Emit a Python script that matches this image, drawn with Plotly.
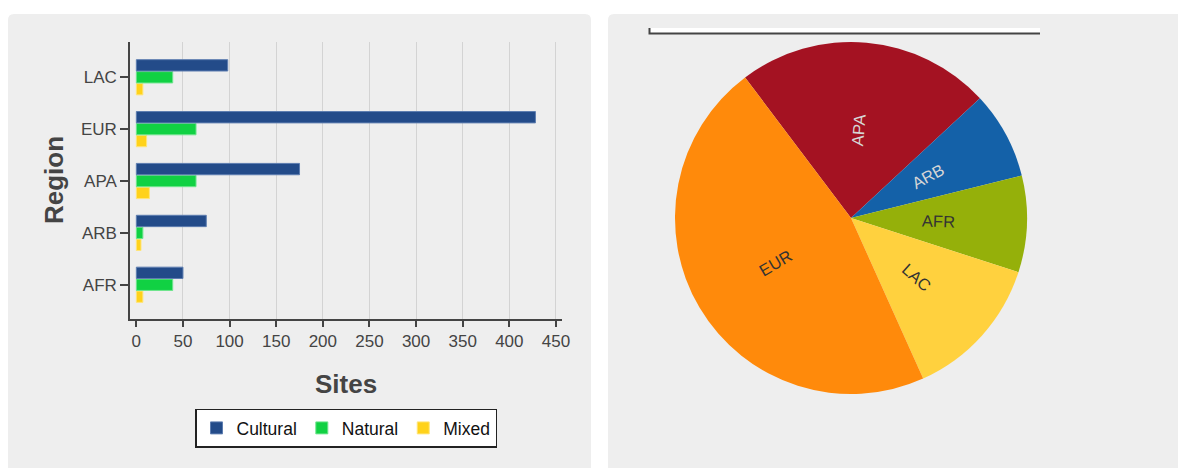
import math
import plotly.graph_objects as go

# ---- data ----
regions = ["AFR", "ARB", "APA", "EUR", "LAC"]
cultural = [50, 75, 175, 428, 98]
natural = [39, 7, 64, 64, 39]
mixed = [7, 5, 14, 11, 7]

series_names = ["Cultural", "Natural", "Mixed"]
series_colors = ["#234b89", "#11d143", "#ffd21a"]
series_lines = ["#5d7db0", "#6fe58d", "#ffe57a"]

pie_order = ["APA", "ARB", "AFR", "LAC", "EUR"]
pie_colors = ["#a41222", "#1461a8", "#95b00a", "#ffd13e", "#ff8a0b"]
pie_text_colors = ["#d6d6d6", "#d6d6d6", "#333333", "#333333", "#333333"]

x_ticks = [0, 50, 100, 150, 200, 250, 300, 350, 400, 450]

# layout designed on a 1178x468 grid
GW, GH = 1178, 468
W, H = 1186, 468
FONT = "Liberation Sans, Arial, sans-serif"


def px(x):
    return x / GW


def py(y):
    return 1 - y / GH


fig = go.Figure()

values = {"Cultural": cultural, "Natural": natural, "Mixed": mixed}
# added bottom-to-top so that Cultural sits on top of each group
for name, col, lc in reversed(list(zip(series_names, series_colors, series_lines))):
    fig.add_trace(go.Bar(
        y=regions, x=values[name], name=name, orientation="h",
        marker=dict(color=col, line=dict(color=lc, width=1)),
        xaxis="x", yaxis="y",
    ))

# ---- pie ----
totals = {r: c + n + m for r, c, n, m in zip(regions, cultural, natural, mixed)}
pie_values = [totals[r] for r in pie_order]
ROT = -37
PCX, PCY, PR = 851, 218, 176
fig.add_trace(go.Pie(
    labels=pie_order, values=pie_values,
    sort=False, direction="clockwise", rotation=ROT,
    marker=dict(colors=pie_colors, line=dict(width=0)),
    textinfo="none", showlegend=False,
    domain=dict(x=[px(PCX - PR), px(PCX + PR)], y=[py(PCY + PR), py(PCY - PR)]),
))

annotations = []
total = sum(pie_values)
cum = 0
for lab, v, tc in zip(pie_order, pie_values, pie_text_colors):
    mid = ROT + (cum + v / 2) / total * 360
    cum += v
    th = math.radians(mid)
    lx = PCX + 0.5 * PR * math.sin(th)
    ly = PCY - 0.5 * PR * math.cos(th)
    m = mid % 360
    ang = m - 90 if m < 180 else m - 270
    annotations.append(dict(
        text=lab, x=px(lx), y=py(ly), xref="paper", yref="paper", showarrow=False,
        textangle=ang, xanchor="center", yanchor="middle",
        font=dict(family=FONT, size=16.5, color=tc)))


def rounded_panel(x0, y0, x1, y1, r=6):
    rx, ry = r / GW, r / GH
    X0, X1 = px(x0), px(x1)
    Y0, Y1 = py(y0), py(y1)
    return (f"M {X0},{Y1} L {X0},{Y0 - ry} Q {X0},{Y0} {X0 + rx},{Y0} "
            f"L {X1 - rx},{Y0} Q {X1},{Y0} {X1},{Y0 - ry} L {X1},{Y1} Z")


shapes = [
    dict(type="path", path=rounded_panel(8, 14, 591, 480), xref="paper", yref="paper",
         fillcolor="#eeeeee", line=dict(width=0), layer="below"),
    dict(type="path", path=rounded_panel(608, 14, 1195, 480), xref="paper", yref="paper",
         fillcolor="#eeeeee", line=dict(width=0), layer="below"),
    dict(type="rect", x0=px(649), x1=px(1040), y0=py(34), y1=py(28), xref="paper", yref="paper",
         fillcolor="white", line=dict(width=0), layer="above"),
    dict(type="path", path=f"M {px(649.5)},{py(28)} L {px(649.5)},{py(33.5)} L {px(1040)},{py(33.5)}",
         xref="paper", yref="paper", line=dict(color="#444444", width=2), layer="above"),
]

annotations += [
    dict(text="<b>Sites</b>", x=px(346), y=py(384), xref="paper", yref="paper",
         showarrow=False, font=dict(family=FONT, size=26, color="#444444"),
         xanchor="center", yanchor="middle"),
    dict(text="<b>Region</b>", x=px(54), y=py(180), xref="paper", yref="paper",
         showarrow=False, font=dict(family=FONT, size=26, color="#444444"),
         textangle=-90, xanchor="center", yanchor="middle"),
]

fig.update_layout(
    width=W, height=H,
    margin=dict(l=0, r=0, t=0, b=0, pad=0),
    paper_bgcolor="white", plot_bgcolor="rgba(0,0,0,0)",
    font=dict(family=FONT, size=17, color="#444444"),
    barmode="group", bargap=0.31, bargroupgap=0.05,
    shapes=shapes, annotations=annotations,
    xaxis=dict(
        domain=[px(130), px(562)], anchor="y",
        range=[-6.8, 456.5], tickvals=x_ticks,
        showline=True, linecolor="#444444", linewidth=1.5,
        ticks="outside", ticklen=6, tickcolor="#444444", tickwidth=1.5,
        showgrid=True, gridcolor="#d3d3d3", gridwidth=1,
        zeroline=True, zerolinecolor="#eeeeee", zerolinewidth=1,
        tickfont=dict(size=17, color="#444444"),
    ),
    yaxis=dict(
        domain=[py(319), py(42)], anchor="x",
        range=[-0.66, 4.68], categoryorder="array", categoryarray=regions,
        showline=True, linecolor="#444444", linewidth=1.5,
        ticks="outside", ticklen=8, tickcolor="#444444", tickwidth=1.5,
        showgrid=False, tickfont=dict(size=17, color="#444444"),
    ),
    legend=dict(
        orientation="h", traceorder="reversed",
        x=px(346), y=py(428), xanchor="center", yanchor="middle",
        bgcolor="white", bordercolor="#222222", borderwidth=1.5,
        font=dict(family=FONT, size=17.5, color="#111111"),
    ),
)

fig.write_html("out.html", config={"displayModeBar": False},
               post_script="document.body.style.margin='0';document.body.style.overflow='hidden';")
